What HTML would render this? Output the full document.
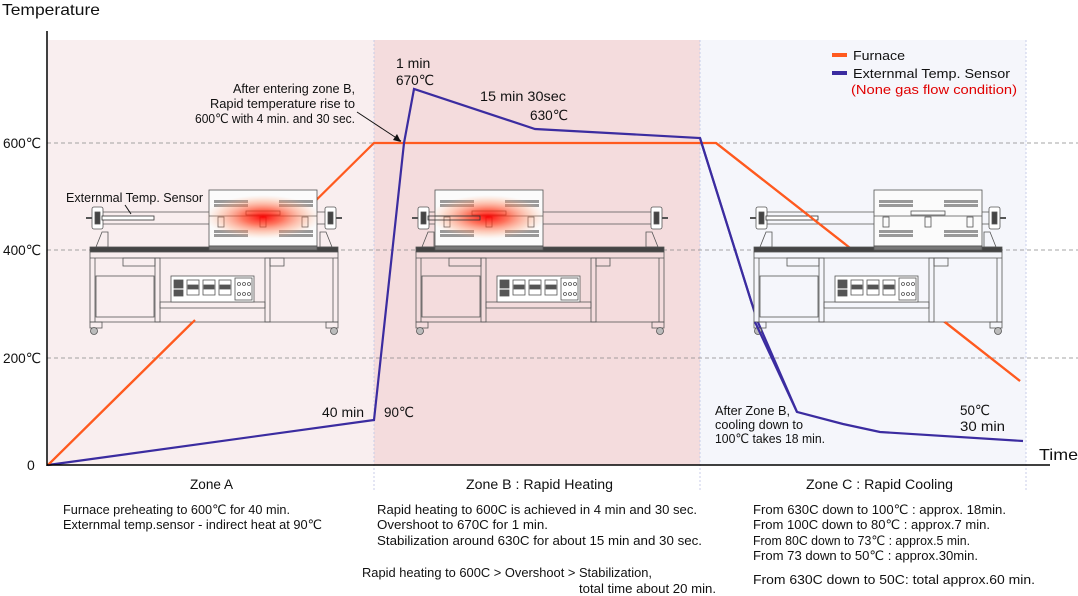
<!DOCTYPE html>
<html><head><meta charset="utf-8"><style>
html,body{margin:0;padding:0;background:#fff;}
svg{display:block;font-family:"Liberation Sans","DejaVu Sans",sans-serif;}
</style></head><body>
<svg width="1078" height="596" viewBox="0 0 1078 596" xmlns="http://www.w3.org/2000/svg">
<defs>
<radialGradient id="heat" cx="50%" cy="50%" r="50%">
<stop offset="0" stop-color="#ff0000" stop-opacity="0.95"/>
<stop offset="0.35" stop-color="#ff3a1a" stop-opacity="0.7"/>
<stop offset="0.75" stop-color="#ff9a70" stop-opacity="0.35"/>
<stop offset="1" stop-color="#ffc0a0" stop-opacity="0"/>
</radialGradient>
<g id="table" stroke="#555" stroke-width="0.8">
 <rect x="0" y="57" width="248" height="5" fill="#444"/>
 <rect x="0" y="62" width="248" height="70" fill="currentColor"/>
 <line x1="0" y1="68" x2="248" y2="68"/>
 <line x1="5" y1="68" x2="5" y2="132"/>
 <line x1="243" y1="68" x2="243" y2="132"/>
 <rect x="65" y="68" width="5" height="64" fill="none"/>
 <rect x="175" y="68" width="5" height="64" fill="none"/>
 <rect x="33" y="68" width="32" height="8" fill="none"/>
 <rect x="180" y="68" width="14" height="8" fill="none"/>
 <rect x="6" y="86" width="58" height="41" fill="none"/>
 <rect x="70" y="112" width="105" height="6" fill="none"/>
 <rect x="81" y="86" width="83" height="26" fill="#fff"/>
 <rect x="84" y="90" width="9" height="8" fill="#555"/>
 <rect x="84" y="100" width="9" height="6" fill="#555"/>
 <rect x="97" y="90" width="12" height="15" fill="none"/>
 <rect x="113" y="90" width="12" height="15" fill="none"/>
 <rect x="129" y="90" width="12" height="15" fill="none"/>
 <rect x="98" y="95" width="10" height="4" fill="#555"/>
 <rect x="114" y="95" width="10" height="4" fill="#555"/>
 <rect x="130" y="95" width="10" height="4" fill="#555"/>
 <rect x="145" y="88" width="17" height="22" fill="none"/>
 <circle cx="149" cy="94" r="1.5" fill="none"/><circle cx="154" cy="94" r="1.5" fill="none"/><circle cx="159" cy="94" r="1.5" fill="none"/>
 <circle cx="149" cy="104" r="1.5" fill="none"/><circle cx="154" cy="104" r="1.5" fill="none"/><circle cx="159" cy="104" r="1.5" fill="none"/>
 <rect x="0" y="132" width="12" height="6" fill="none"/>
 <circle cx="4" cy="141" r="3.5" fill="#bbb"/>
 <rect x="236" y="132" width="12" height="6" fill="none"/>
 <circle cx="244" cy="141" r="3.5" fill="#bbb"/>
 <path d="M6 57 L12 42 L18 42 L18 57 Z" fill="none"/>
 <path d="M242 57 L236 42 L230 42 L230 57 Z" fill="none"/>
 <line x1="12" y1="22" x2="236" y2="22"/>
 <line x1="12" y1="34" x2="236" y2="34"/>
 <rect x="2" y="17" width="11" height="22" rx="2" fill="#fff"/>
 <rect x="5" y="22" width="5" height="12" fill="#444"/>
 <line x1="-4" y1="28" x2="2" y2="28" stroke-width="2"/>
 <rect x="235" y="17" width="11" height="22" rx="2" fill="#fff"/>
 <rect x="238" y="22" width="5" height="12" fill="#444"/>
 <line x1="246" y1="28" x2="252" y2="28" stroke-width="2"/>
</g>
<g id="furn" stroke="#555" stroke-width="0.8">
 <rect x="0" y="0" width="108" height="56" fill="#fbfbfb"/>
 <g fill="#999" stroke="none">
 <rect x="5" y="10" width="34" height="3"/><rect x="5" y="14" width="34" height="3"/>
 <rect x="70" y="10" width="34" height="3"/><rect x="70" y="14" width="34" height="3"/>
 <rect x="5" y="40" width="34" height="3"/><rect x="5" y="44" width="34" height="3"/>
 <rect x="70" y="40" width="34" height="3"/><rect x="70" y="44" width="34" height="3"/>
 </g>
 <line x1="0" y1="26" x2="108" y2="26"/>
 <rect x="37" y="21" width="34" height="4" fill="none"/>
 <rect x="9" y="27" width="6" height="10" fill="none"/>
 <rect x="51" y="27" width="6" height="10" fill="none"/>
 <rect x="93" y="27" width="6" height="10" fill="none"/>
 <rect x="0" y="56" width="108" height="4" fill="#777"/>
</g>
</defs>

<rect x="48" y="40" width="326" height="425" fill="#f9eeef"/>
<rect x="374" y="40" width="326" height="425" fill="#f4dcdd"/>
<rect x="700" y="40" width="326" height="425" fill="#f5f6fb"/>
<g stroke="#c8cde8" stroke-width="1" stroke-dasharray="2,2">
<line x1="374" y1="40" x2="374" y2="490"/>
<line x1="700" y1="40" x2="700" y2="490"/>
<line x1="1026" y1="40" x2="1026" y2="490"/>
</g>
<g stroke="#888" stroke-width="0.8" stroke-dasharray="4,3">
<line x1="47" y1="143" x2="1078" y2="143"/>
<line x1="47" y1="250" x2="1078" y2="250"/>
<line x1="47" y1="358" x2="1078" y2="358"/>
</g>

<polyline points="48,465 374,143 716,143 1020,381" fill="none" stroke="#ff5a1f" stroke-width="2.2"/>
<polyline points="48,465 374,420 404,143 414,89 535,129 700,138 757,320 797,412 843,424 880,432 1023,441" fill="none" stroke="#3b2ca0" stroke-width="2.2"/>

<use href="#table" x="90" y="190" style="color:#f9eeef"/>
<use href="#furn" x="209" y="190"/>
<ellipse cx="263" cy="217" rx="58" ry="22" fill="url(#heat)"/>
<rect x="102" y="216" width="52" height="4" fill="#fff" stroke="#333" stroke-width="0.8"/>

<use href="#table" x="416" y="190" style="color:#f4dcdd"/>
<use href="#furn" x="435" y="190"/>
<ellipse cx="488" cy="217" rx="58" ry="22" fill="url(#heat)"/>
<rect x="428" y="216" width="52" height="4" fill="none" stroke="#333" stroke-width="0.8"/>

<use href="#table" x="754" y="190" style="color:#f5f6fb"/>
<use href="#furn" x="874" y="190"/>
<rect x="766" y="216" width="52" height="4" fill="#fff" stroke="#333" stroke-width="0.8"/>

<polyline points="48,465 195,320" fill="none" stroke="#ff5a1f" stroke-width="2.2"/>
<line x1="755" y1="322" x2="797" y2="412" stroke="#3b2ca0" stroke-width="2.2"/>
<line x1="700" y1="138" x2="752" y2="304" stroke="#3b2ca0" stroke-width="2.2"/>
<line x1="945" y1="322" x2="1020" y2="381" stroke="#ff5a1f" stroke-width="2.2"/>
<line x1="716" y1="143" x2="845" y2="244" stroke="#ff5a1f" stroke-width="2.2"/>

<line x1="47" y1="31" x2="47" y2="466" stroke="#000" stroke-width="1.5"/>
<line x1="47" y1="465" x2="1050" y2="465" stroke="#000" stroke-width="1.5"/>

<g font-size="14" fill="#111" lengthAdjust="spacingAndGlyphs">
<text x="2" y="15" font-size="16" textLength="98" lengthAdjust="spacingAndGlyphs">Temperature</text>
<text x="3" y="148" textLength="38" lengthAdjust="spacingAndGlyphs">600℃</text>
<text x="3" y="255" textLength="38" lengthAdjust="spacingAndGlyphs">400℃</text>
<text x="3" y="363" textLength="38" lengthAdjust="spacingAndGlyphs">200℃</text>
<text x="27" y="470">0</text>
<text x="1039" y="460" font-size="16" textLength="39" lengthAdjust="spacingAndGlyphs">Time</text>
</g>

<g font-size="13" fill="#111">
<text x="66" y="202" textLength="137" lengthAdjust="spacingAndGlyphs">Externmal Temp. Sensor</text>
<line x1="125" y1="205" x2="131" y2="214" stroke="#111"/>
<text x="233" y="93" textLength="122" lengthAdjust="spacingAndGlyphs">After entering zone B,</text>
<text x="210" y="108" textLength="145" lengthAdjust="spacingAndGlyphs">Rapid temperature rise to</text>
<text x="195" y="123" textLength="160" lengthAdjust="spacingAndGlyphs">600℃ with 4 min. and 30 sec.</text>
<line x1="357" y1="112" x2="401" y2="141" stroke="#111"/>
<path d="M401 142 L393 140 L397 134 Z" fill="#111"/>
<text x="396" y="68" font-size="14">1 min</text>
<text x="396" y="85" font-size="14" textLength="38" lengthAdjust="spacingAndGlyphs">670℃</text>
<text x="480" y="101" font-size="14" textLength="86" lengthAdjust="spacingAndGlyphs">15 min 30sec</text>
<text x="530" y="120" font-size="14" textLength="38" lengthAdjust="spacingAndGlyphs">630℃</text>
<text x="322" y="417" font-size="14">40 min</text>
<text x="384" y="417" font-size="14" textLength="30" lengthAdjust="spacingAndGlyphs">90℃</text>
<text x="715" y="415" textLength="75" lengthAdjust="spacingAndGlyphs">After Zone B,</text>
<text x="715" y="429" textLength="88" lengthAdjust="spacingAndGlyphs">cooling down to</text>
<text x="715" y="443" textLength="110" lengthAdjust="spacingAndGlyphs">100℃ takes 18 min.</text>
<text x="960" y="415" font-size="14" textLength="30" lengthAdjust="spacingAndGlyphs">50℃</text>
<text x="960" y="431" font-size="14" textLength="45" lengthAdjust="spacingAndGlyphs">30 min</text>
<rect x="832" y="53" width="15" height="4" fill="#ff5a1f"/>
<text x="853" y="60" textLength="52" lengthAdjust="spacingAndGlyphs">Furnace</text>
<rect x="832" y="71" width="15" height="4" fill="#3b2ca0"/>
<text x="853" y="78" textLength="157" lengthAdjust="spacingAndGlyphs">Externmal Temp. Sensor</text>
<text x="851" y="94" fill="#e00000" textLength="166" lengthAdjust="spacingAndGlyphs">(None gas flow condition)</text>
</g>

<g font-size="13.5" fill="#111">
<text x="190" y="489" textLength="43" lengthAdjust="spacingAndGlyphs">Zone A</text>
<text x="466" y="489" textLength="147" lengthAdjust="spacingAndGlyphs">Zone B : Rapid Heating</text>
<text x="806" y="489" textLength="147" lengthAdjust="spacingAndGlyphs">Zone C : Rapid Cooling</text>
</g>
<g font-size="13" fill="#111">
<text x="63" y="514" textLength="227" lengthAdjust="spacingAndGlyphs">Furnace preheating to 600℃ for 40 min.</text>
<text x="63" y="529" textLength="259" lengthAdjust="spacingAndGlyphs">Externmal temp.sensor - indirect heat at 90℃</text>
<text x="377" y="514" textLength="320" lengthAdjust="spacingAndGlyphs">Rapid heating to 600C is achieved in 4 min and 30 sec.</text>
<text x="377" y="529" textLength="171" lengthAdjust="spacingAndGlyphs">Overshoot to 670C for 1 min.</text>
<text x="377" y="545" textLength="325" lengthAdjust="spacingAndGlyphs">Stabilization around 630C for about 15 min and 30 sec.</text>
<text x="362" y="577" textLength="290" lengthAdjust="spacingAndGlyphs">Rapid heating to 600C &gt; Overshoot &gt; Stabilization,</text>
<text x="579" y="593" textLength="137" lengthAdjust="spacingAndGlyphs">total time about 20 min.</text>
<text x="753" y="514" textLength="253" lengthAdjust="spacingAndGlyphs">From 630C down to 100℃ : approx. 18min.</text>
<text x="753" y="529" textLength="237" lengthAdjust="spacingAndGlyphs">From 100C down to 80℃ : approx.7 min.</text>
<text x="753" y="545" textLength="217" lengthAdjust="spacingAndGlyphs">From 80C down to 73℃ : approx.5 min.</text>
<text x="753" y="560" textLength="225" lengthAdjust="spacingAndGlyphs">From 73 down to 50℃ : approx.30min.</text>
<text x="753" y="584" textLength="282" lengthAdjust="spacingAndGlyphs">From 630C down to 50C: total approx.60 min.</text>
</g>
</svg>
</body></html>
